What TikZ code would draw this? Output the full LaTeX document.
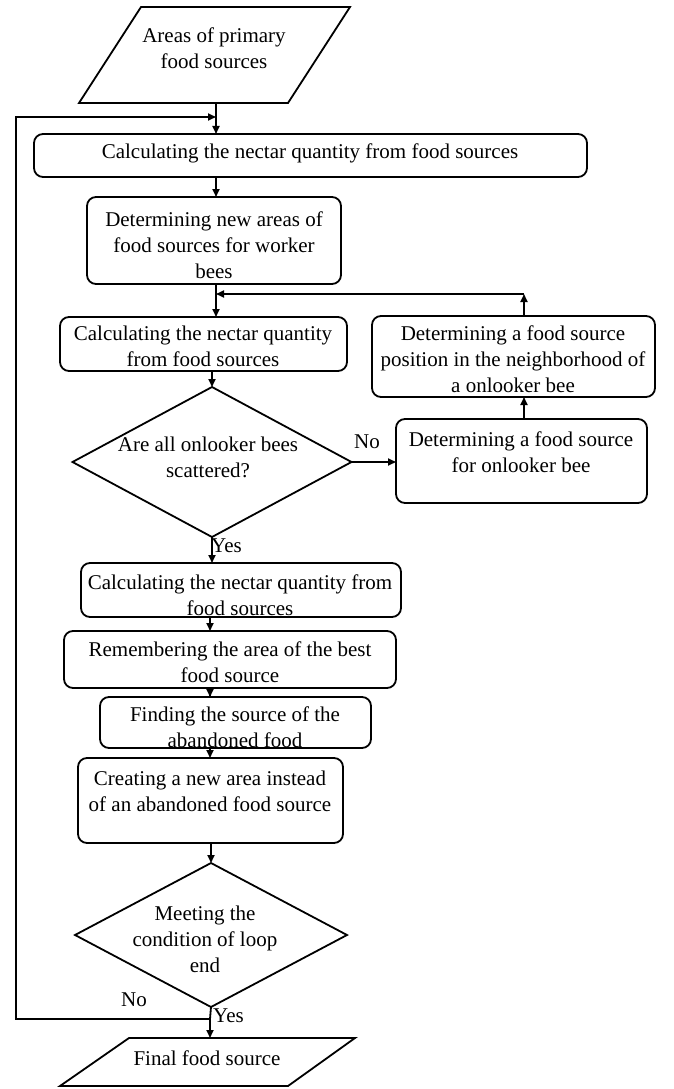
\documentclass[tikz,border=0pt]{standalone}
\usepackage{fontspec}
\setmainfont{Liberation Serif}
\usetikzlibrary{arrows.meta,shapes.geometric}
\begin{document}
\begin{tikzpicture}[x=1pt,y=-1pt,
  every node/.style={font=\fontsize{21}{26}\selectfont},
  ln/.style={line width=1.8pt,line join=miter},
  arr/.style={ln,-{Triangle[length=8pt,width=7pt]}},
  rbox/.style={draw,line width=1.8pt,rounded corners=9pt,inner sep=0pt,outer sep=0pt},
  dia/.style={draw,line width=1.8pt,diamond,inner sep=0pt,outer sep=0pt},
  txt/.style={align=center,inner sep=0pt},
  lbl/.style={inner sep=0pt}]
\useasboundingbox (0,0) rectangle (673,1089);
% top parallelogram
\draw[ln] (141,7) -- (350,7) -- (288,103) -- (79,103) -- cycle;
\node[txt] (tpt) at (214,48) {Areas of primary\\food sources};
\coordinate (pab) at (216,103);
\coordinate (sp) at (216,0);
\coordinate (spb) at (210,0);
% boxes
\node[rbox,minimum width=553pt,minimum height=43pt] (b1) at (310.5,155.5) {};
\node[txt] (t1) at (310,153) {Calculating the nectar quantity from food sources};
\node[rbox,minimum width=254pt,minimum height=87pt] (b2) at (214,240.5) {};
\node[txt] (t2) at (214,245) {Determining new areas of\\food sources for worker\\bees};
\node[rbox,minimum width=287pt,minimum height=54pt] (b3) at (203.5,344) {};
\node[txt] (t3) at (203,346) {Calculating the nectar quantity\\from food sources};
\node[rbox,minimum width=283pt,minimum height=81pt] (r1) at (513.5,356.5) {};
\node[txt] (tr1) at (513,359) {Determining a food source\\position in the neighborhood of\\a onlooker bee};
\node[rbox,minimum width=251pt,minimum height=84pt] (r2) at (521.5,461) {};
\node[txt] (tr2) at (521,452) {Determining a food source\\for onlooker bee};
\node[dia,minimum width=279pt,minimum height=150pt] (d1) at (212,462) {};
\node[txt] (td1) at (208,457) {Are all onlooker bees\\scattered?};
\node[rbox,minimum width=320pt,minimum height=54pt] (b4) at (241,590) {};
\node[txt] (t4) at (240,595) {Calculating the nectar quantity from\\food sources};
\node[rbox,minimum width=332pt,minimum height=57pt] (b5) at (230,659.5) {};
\node[txt] (t5) at (230,662) {Remembering the area of the best\\food source};
\node[rbox,minimum width=271pt,minimum height=51pt] (b6) at (235.5,722.5) {};
\node[txt] (t6) at (235,727) {Finding the source of the\\abandoned food};
\node[rbox,minimum width=265pt,minimum height=85pt] (b7) at (210.5,800.5) {};
\node[txt] (t7) at (210,791) {Creating a new area instead\\of an abandoned food source};
\node[dia,minimum width=272pt,minimum height=144pt] (d2) at (211,935) {};
\node[txt] (td2) at (205,939) {Meeting the\\condition of loop\\end};
% final parallelogram
\draw[ln] (129,1038) -- (355,1038) -- (288,1086) -- (60,1086) -- cycle;
\node[txt] (tfin) at (207,1058) {Final food source};
\coordinate (fint) at (210,1038);
% labels
\node[lbl] (no1) at (367,442) {No};
\node[lbl,anchor=west] (yes1) at (211,546) {Yes};
\node[lbl] (no2) at (134,1000) {No};
\node[lbl,anchor=west] (yes2) at (213,1016) {Yes};
% connectors
\coordinate (lp3) at (216,117);
\coordinate (jn) at (210,1019);
\coordinate (lp1) at (16,1019);
\coordinate (lp2) at (16,117);
\coordinate (jr) at (524,294);
\coordinate (jl) at (216,294);
\draw[arr] (pab) -- (b1.north -| sp);
\draw[arr] (b1.south -| sp) -- (b2.north -| sp);
\draw[arr] (b2.south -| sp) -- (b3.north -| sp);
\draw[arr] (r1.north -| jr) -- (jr);
\draw[arr] (jr) -- (jl);
\draw[arr] (r2.north -| jr) -- (r1.south -| jr);
\draw[arr] (b3.south -| d1.north) -- (d1.north);
\draw[arr] (d1.east) -- (d1.east -| r2.west);
\draw[arr] (d1.south) -- (b4.north -| d1.south);
\draw[arr] (b4.south -| spb) -- (b5.north -| spb);
\draw[arr] ([yshift=-8pt]b5.south -| spb) -- (b6.north -| spb);
\draw[arr] (b6.south -| spb) -- (b7.north -| spb);
\draw[arr] (b7.south -| d2.north) -- (d2.north);
\draw[ln] (d2.south) -- (jn);
\draw[arr] (jn) -- (fint);
\draw[arr] (jn) -- (lp1) -- (lp2) -- (lp3);
\end{tikzpicture}
\end{document}
